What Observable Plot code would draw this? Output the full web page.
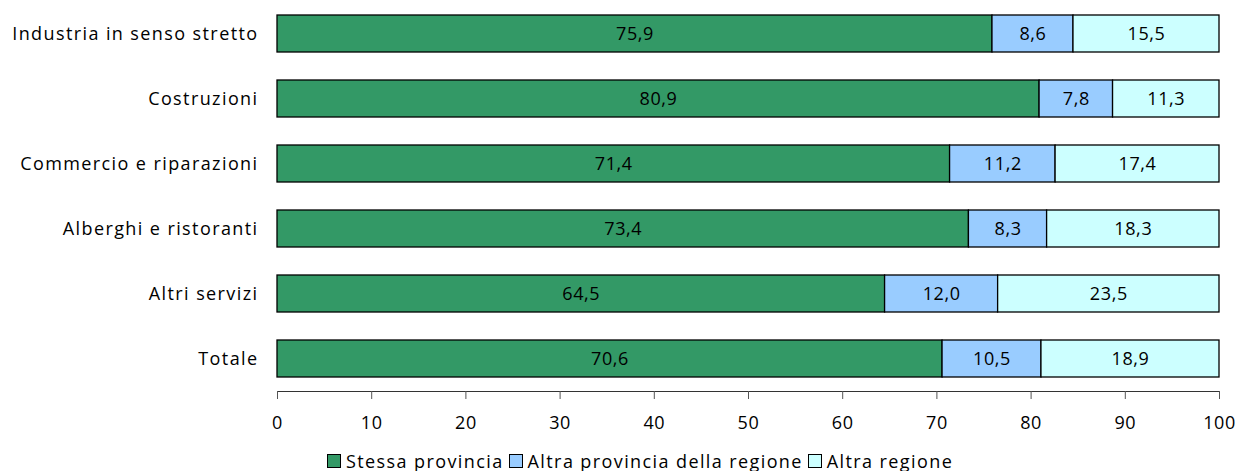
<!DOCTYPE html>
<html><head><meta charset="utf-8">
<script src="https://cdn.jsdelivr.net/npm/d3@7"></script>
<script src="https://cdn.jsdelivr.net/npm/@observablehq/plot@0.6"></script>
<style>
body{margin:0;background:#fff;font-family:"Open Sans",sans-serif;}
#chart svg text{letter-spacing:1.4px;}
#chart svg g[aria-label="text"] text, #chart svg g[aria-label="x-axis tick label"] text{letter-spacing:0.6px;}
#legend{position:absolute;left:327px;top:448px;font-size:18px;letter-spacing:1.4px;color:#000;white-space:nowrap;display:flex;align-items:center;line-height:26px;}
.sw{display:inline-block;width:12px;height:12px;border:1px solid #000;margin-right:5px;margin-left:5px;}
.sw:first-child{margin-left:0;}
</style></head>
<body>
<div id="chart"></div>
<div id="legend"></div>
<script>
const categories = ["Industria in senso stretto","Costruzioni","Commercio e riparazioni","Alberghi e ristoranti","Altri servizi","Totale"];
const stessaProvincia = [75.9,80.9,71.4,73.4,64.5,70.6];
const altraProvincia = [8.6,7.8,11.2,8.3,12.0,10.5];
const altraRegione = [15.5,11.3,17.4,18.3,23.5,18.9];
const seriesNames = ["Stessa provincia","Altra provincia della regione","Altra regione"];
const seriesColors = ["#339966","#99ccff","#ccffff"];
const xTicks = [0,10,20,30,40,50,60,70,80,90,100];

const seriesValues = [stessaProvincia, altraProvincia, altraRegione];
const data = [];
seriesNames.forEach((s, i) => categories.forEach((c, j) => data.push({cat: c, series: s, value: seriesValues[i][j]})));
const fmt = v => v.toFixed(1).replace(".", ",");

const plot = Plot.plot({
  width: 1237, height: 440,
  marginLeft: 277, marginRight: 18, marginTop: 0.5, marginBottom: 49,
  style: {fontFamily: "'Open Sans', sans-serif", fontSize: "18px", color: "#000", background: "#fff"},
  x: {domain: [0, 100], ticks: xTicks},
  y: {domain: categories, paddingInner: 0.43, paddingOuter: 0.215, label: null},
  color: {domain: seriesNames, range: seriesColors},
  marks: [
    Plot.barX(data, Plot.stackX({x: "value", y: "cat", fill: "series", z: "series", stroke: "#000", strokeWidth: 1.3})),
    Plot.text(data, Plot.stackX({x: "value", y: "cat", z: "series", text: d => fmt(d.value), fontSize: 18, fill: "#000"})),
    Plot.frame({anchor: "bottom", stroke: "#333"}),
    Plot.axisX({ticks: xTicks, tickSize: 8, tickPadding: 17, label: null, stroke: "#555", tickFormat: d => String(d), fontSize: 18}),
    Plot.axisY({tickSize: 0, tickPadding: 19, label: null, fontSize: 18})
  ]
});
document.getElementById("chart").appendChild(plot);

const leg = document.getElementById("legend");
seriesNames.forEach((s, i) => {
  const sw = document.createElement("span");
  sw.className = "sw"; sw.style.background = seriesColors[i];
  leg.appendChild(sw);
  const t = document.createElement("span");
  t.textContent = s; leg.appendChild(t);
});
</script>
</body></html>
